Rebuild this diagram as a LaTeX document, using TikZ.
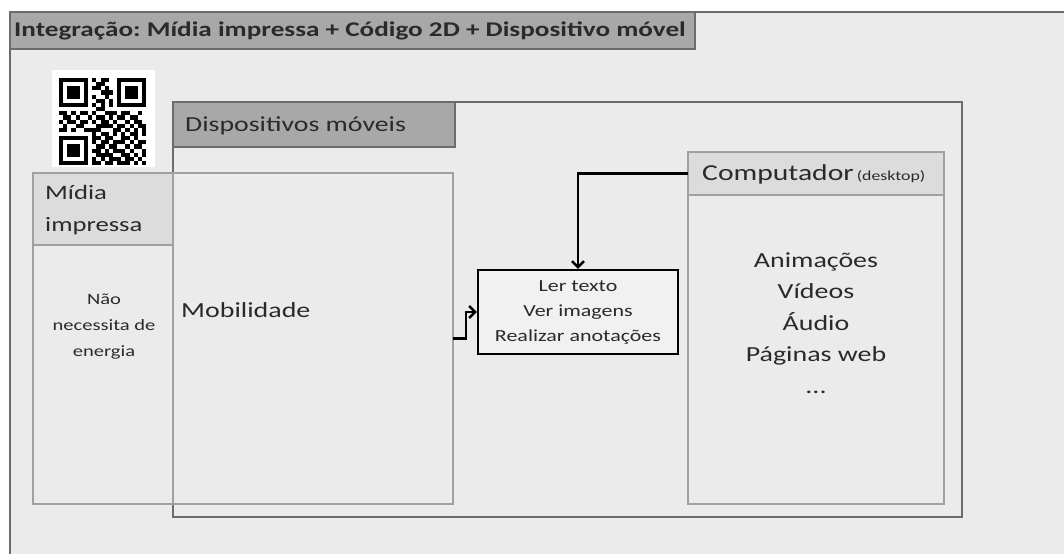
\documentclass[tikz,border=0pt]{standalone}
\usepackage{fontspec}
\setmainfont{Carlito}[FakeStretch=1.3]
\usetikzlibrary{arrows.meta}
\frenchspacing

\definecolor{paper}{HTML}{EBEBEB}
\definecolor{hdrdark}{HTML}{A8A8A8}
\definecolor{hdrlight}{HTML}{DCDCDC}
\definecolor{edgedark}{HTML}{6C6C6C}
\definecolor{edgelight}{HTML}{A0A0A0}
\definecolor{ink}{HTML}{2A2A2A}
\definecolor{boxfill}{HTML}{F1F1F1}

\newcommand\fsz[2]{\fontsize{#1pt}{#2pt}\selectfont}

% QR module painter: one row of 0/1 characters per call
\newcount\qrcol
\def\qrrow#1{\qrcol=0 \qrscan#1\relax}
\def\qrscan#1{\ifx#1\relax\else
  \ifnum#1=1 \fill[black] ({59+\the\qrcol*4.15},{78+\qry*4.15}) rectangle ++(4.15,4.15);\fi
  \advance\qrcol by 1
  \expandafter\qrscan\fi}

\tikzset{
  panel/.style={rectangle, anchor=north west, inner sep=0pt, outer sep=0pt},
  outerbox/.style={panel, draw=edgedark, line width=2.2pt},
  innerbox/.style={panel, draw=edgelight, line width=2pt},
  label/.style={text=ink, inner sep=0pt},
  conn/.style={draw=black, line width=2.6pt, -{Straight Barb[length=6pt,width=12pt,line width=2.4pt]}},
}

\begin{document}
\begin{tikzpicture}[x=1pt, y=-1pt]
\useasboundingbox (0,0) rectangle (1064,554);
\fill[white] (0,0) rectangle (1064,554);

% outer frame (runs past the right and bottom edges)
\fill[paper] (10,12) rectangle (1064,554);
\draw[edgedark, line width=2.2pt] (10,554) -- (10,12) -- (1064,12);

% title bar
\node[outerbox, fill=hdrdark, minimum width=685pt, minimum height=37pt] (title) at (10,12) {};
\node[label, anchor=west, font=\fsz{20.9}{24}\bfseries] (titletxt) at (14,31)
  {Integração: Mídia impressa + Código 2D + Dispositivo móvel};

% mobile devices frame
\node[outerbox, minimum width=789pt, minimum height=415pt] (dev) at (173,102) {};

% printed media column
\node[innerbox, minimum width=140pt, minimum height=331pt] (midia) at (33,173) {};
\node[innerbox, fill=hdrlight, minimum width=140pt, minimum height=72pt] (midiahdr) at (33,173) {};
\node[label, anchor=north west, align=left, font=\fsz{20.5}{32}] (midiatxt) at (45,185)
  {Mídia\\impressa};
\node[label, align=center, font=\fsz{15.8}{26}] (midiabody) at (104,327)
  {Não\\necessita de\\energia};

% mobility column
\node[innerbox, minimum width=280pt, minimum height=331pt] (mob) at (173,173) {};
\node[label, anchor=west, font=\fsz{21.5}{26}] (mobtxt) at (181,310) {Mobilidade};

% mobile devices tab
\node[outerbox, fill=hdrdark, minimum width=282pt, minimum height=45pt] (devhdr) at (173,102) {};
\node[label, anchor=west, font=\fsz{21.4}{26}] (devtxt) at (185,126) {Dispositivos móveis};

% desktop computer column
\node[innerbox, minimum width=256pt, minimum height=352pt] (comp) at (688,152) {};
\node[innerbox, fill=hdrlight, minimum width=256pt, minimum height=43pt] (comphdr) at (688,152) {};
\node[label, anchor=west, font=\fsz{22.8}{26}] (comptxt) at (702,174)
  {Computador\hspace{3pt}{\fsz{13.7}{15}(desktop)}};
\node[label, align=center, font=\fsz{21.5}{31.5}] (complist) at (816,323)
  {Animações\\Vídeos\\Áudio\\Páginas web\\...};

% shared actions
\node[rectangle, draw=black, line width=2.4pt, fill=boxfill, minimum width=200pt,
      minimum height=84pt, inner sep=0pt, align=center, text=ink,
      font=\fsz{16.9}{25}] (ler) at (578,312)
  {Ler texto\\Ver imagens\\Realizar anotações};

% 2D code
\node[panel, fill=white, minimum width=103pt, minimum height=97pt] (qr) at (52,70) {};
\foreach \qrline [count=\qry from 0] in {
  111111101011001111111,
  100000100110001000001,
  101110101101001011101,
  101110100011101011101,
  101110101001001011101,
  100000100110101000001,
  111111101010101111111,
  000000000110000000000,
  110101101001110110010,
  011010010110101101100,
  101101101011010010110,
  010011000111101101011,
  110100111100011010101,
  000000001011010101101,
  111111101101100110100,
  100000101011011101011,
  101110100110110010110,
  101110101101011101001,
  101110100111100110101,
  100000101010111011010,
  111111101101101110101}
  {\expandafter\qrrow\expandafter{\qrline}}

% connectors
\draw[conn] (mob.east) -- ++(13,0) |- (ler.west);
\draw[conn] (comphdr.west) -| (ler.north);
\end{tikzpicture}
\end{document}
